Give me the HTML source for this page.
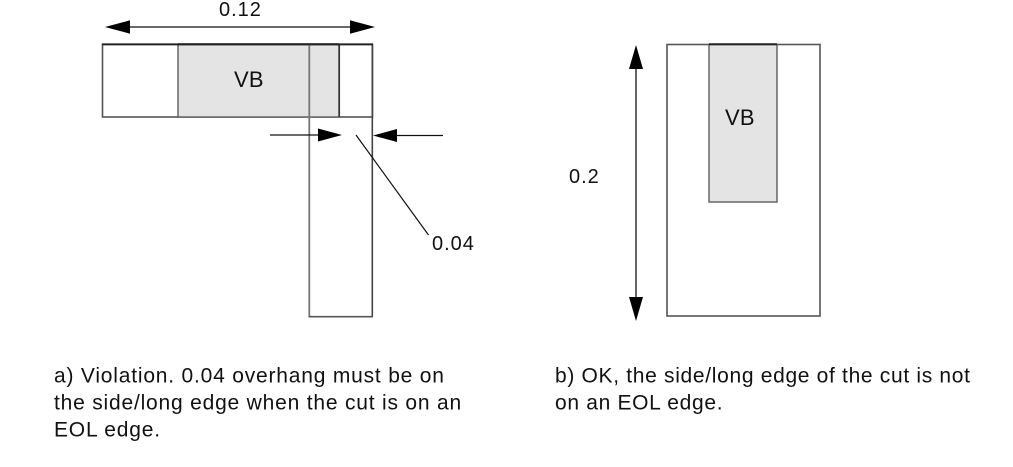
<!DOCTYPE html>
<html>
<head>
<meta charset="utf-8">
<style>
  html, body { margin: 0; padding: 0; background: #ffffff; }
  body { width: 1013px; height: 467px; overflow: hidden; }
  svg { display: block; }
  text { font-family: "Liberation Sans", Arial, sans-serif; fill: #111; }
  .cap { font-size: 21px; letter-spacing: 0.8px; }
  .capb { font-size: 21px; letter-spacing: 0.68px; }
  .dim { font-size: 20px; letter-spacing: 1.0px; }
  .vb { font-size: 22px; letter-spacing: 0.2px; }
</style>
</head>
<body>
<svg width="1013" height="467" viewBox="0 0 1013 467" xmlns="http://www.w3.org/2000/svg">
  <!-- Left diagram -->
  <line x1="118" y1="27" x2="362" y2="27" stroke="#111" stroke-width="1.3"/>
  <polygon points="105,27 130,20.3 130,33.7" fill="#000"/>
  <polygon points="375,27 350,20.3 350,33.7" fill="#000"/>
  <text class="dim" x="219" y="16">0.12</text>

  <rect x="102.5" y="44.5" width="270" height="72.5" fill="#fff" stroke="#555" stroke-width="1.6"/>
  <rect x="178" y="44.5" width="161" height="72.5" fill="#e4e4e4" stroke="#666" stroke-width="1.5"/>
  <line x1="178" y1="44.3" x2="339" y2="44.3" stroke="#222" stroke-width="2"/>
  <line x1="339.3" y1="44" x2="339.3" y2="117" stroke="#333" stroke-width="1.5"/>
  <text class="vb" x="234" y="87">VB</text>

  <line x1="309.3" y1="44" x2="309.3" y2="317" stroke="#777" stroke-width="1.8"/>
  <line x1="372.3" y1="44" x2="372.3" y2="317" stroke="#444" stroke-width="1.6"/>
  <line x1="308.5" y1="316.7" x2="373" y2="316.7" stroke="#555" stroke-width="1.6"/>
  <line x1="102" y1="44.3" x2="373" y2="44.3" stroke="#222" stroke-width="1.8"/>

  <line x1="270" y1="135" x2="320" y2="135" stroke="#111" stroke-width="1.2"/>
  <polygon points="342,135 318,128.5 318,141.5" fill="#000"/>
  <line x1="395" y1="135.5" x2="443" y2="135.5" stroke="#111" stroke-width="1.2"/>
  <polygon points="373,135.5 397,129 397,142" fill="#000"/>
  <line x1="356" y1="135" x2="428.5" y2="235" stroke="#111" stroke-width="1.2"/>
  <text class="dim" x="432" y="250">0.04</text>

  <!-- Right diagram -->
  <rect x="667" y="44.5" width="153" height="271.5" fill="#fff" stroke="#555" stroke-width="1.6"/>
  <rect x="709" y="44.5" width="68" height="157.5" fill="#e4e4e4" stroke="#666" stroke-width="1.5"/>
  <line x1="709" y1="44.2" x2="777" y2="44.2" stroke="#222" stroke-width="2"/>
  <text class="vb" x="725" y="125">VB</text>

  <line x1="636" y1="60" x2="636" y2="306" stroke="#111" stroke-width="1.3"/>
  <polygon points="636,45 629,69 643,69" fill="#000"/>
  <polygon points="636,321 629,297 643,297" fill="#000"/>
  <text class="dim" x="569" y="183">0.2</text>

  <!-- Captions -->
  <text class="cap" x="54" y="382.5">a) Violation. 0.04 overhang must be on</text>
  <text class="cap" x="54" y="409.5">the side/long edge when the cut is on an</text>
  <text class="cap" x="54" y="436.5">EOL edge.</text>

  <text class="capb" x="555" y="382.5">b) OK, the side/long edge of the cut is not</text>
  <text class="capb" x="555" y="409.5">on an EOL edge.</text>
</svg>
</body>
</html>
